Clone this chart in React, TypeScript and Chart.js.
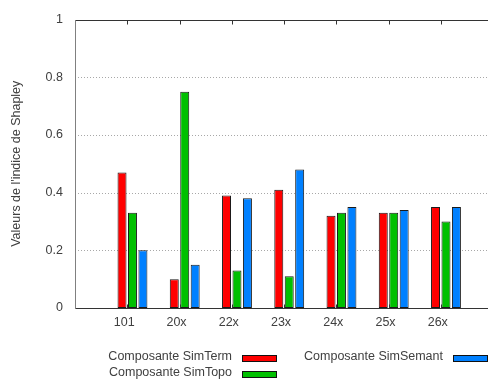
import React, { useEffect, useRef } from 'react';
import { Chart, registerables } from 'chart.js';

Chart.register(...registerables);

const categories = ['101', '20x', '22x', '23x', '24x', '25x', '26x'];
const simTerm = [0.47, 0.1, 0.39, 0.41, 0.32, 0.33, 0.35];
const simTopo = [0.33, 0.75, 0.13, 0.11, 0.33, 0.33, 0.3];
const simSemant = [0.2, 0.15, 0.38, 0.48, 0.35, 0.34, 0.35];
const seriesNames = ['Composante SimTerm', 'Composante SimTopo', 'Composante SimSemant'];
const seriesColors = ['#ff0000', '#00c000', '#0080ff'];
const yTicks = [0, 0.2, 0.4, 0.6, 0.8, 1];
const yTitle = "Valeurs de l'indice de Shapley";

const FONT = "'Liberation Sans', Arial, sans-serif";
const FONT_SIZE = 12.5;
const TEXT_COLOR = '#404040';

const framePlugin = {
  id: 'gnuFrame',
  beforeDatasetsDraw(chart: any) {
    const { ctx, chartArea, scales } = chart;
    const { left, right } = chartArea;
    ctx.save();
    ctx.strokeStyle = '#a8a8a8';
    ctx.lineWidth = 1;
    ctx.setLineDash([1, 2]);
    for (const v of yTicks) {
      if (v <= 0 || v >= 1) continue;
      const py = Math.round(scales.y.getPixelForValue(v)) + 0.5;
      ctx.beginPath();
      ctx.moveTo(left, py);
      ctx.lineTo(right, py);
      ctx.stroke();
    }
    ctx.restore();
  },
  afterDatasetsDraw(chart: any) {
    const { ctx, chartArea, scales } = chart;
    const { left, right, top, bottom } = chartArea;
    const t = Math.round(top) + 0.5;
    const b = Math.round(bottom) + 0.5;
    const l = Math.round(left) + 0.5;
    ctx.save();
    ctx.lineWidth = 1;
    ctx.setLineDash([]);
    ctx.strokeStyle = '#808080';
    ctx.beginPath();
    ctx.moveTo(l, t);
    ctx.lineTo(l, b);
    ctx.stroke();
    ctx.strokeStyle = '#333333';
    ctx.beginPath();
    ctx.moveTo(l, t);
    ctx.lineTo(right, t);
    ctx.moveTo(l, b);
    ctx.lineTo(right, b);
    ctx.stroke();
    for (let i = 1; i <= categories.length; i++) {
      const px = Math.round(scales.x.getPixelForValue(i)) + 0.5;
      ctx.beginPath();
      ctx.moveTo(px, t);
      ctx.lineTo(px, t + 4);
      ctx.moveTo(px, b);
      ctx.lineTo(px, b - 4);
      ctx.stroke();
    }
    ctx.restore();
  },
  afterDraw(chart: any) {
    const { ctx } = chart;
    ctx.save();
    ctx.font = `${FONT_SIZE}px ${FONT}`;
    ctx.textAlign = 'right';
    ctx.textBaseline = 'middle';
    const entries = [
      { name: seriesNames[0], color: seriesColors[0], tx: 232, ty: 357 },
      { name: seriesNames[1], color: seriesColors[1], tx: 232, ty: 372.5 },
      { name: seriesNames[2], color: seriesColors[2], tx: 443, ty: 357 },
    ];
    for (const e of entries) {
      ctx.fillStyle = TEXT_COLOR;
      ctx.fillText(e.name, e.tx, e.ty);
      const sx = e.tx + 10;
      const sy = Math.round(e.ty - 2) + 0.5;
      ctx.fillStyle = e.color;
      ctx.fillRect(sx, sy, 35, 6);
      ctx.strokeStyle = '#111';
      ctx.lineWidth = 1;
      ctx.strokeRect(sx + 0.5, sy, 34, 6);
    }
    ctx.restore();
  },
};

export default function App() {
  const canvasRef = useRef<HTMLCanvasElement | null>(null);

  useEffect(() => {
    if (!canvasRef.current) return;
    const labels = ['', ...categories, ''];
    const pad = (arr: number[]) => [null, ...arr, null];
    const series = [simTerm, simTopo, simSemant];
    const chart = new Chart(canvasRef.current, {
      type: 'bar',
      data: {
        labels,
        datasets: [
          {
            label: '',
            data: labels.map(() => null),
            backgroundColor: 'transparent',
            borderWidth: 0,
          },
          ...series.map((s, i) => ({
            label: seriesNames[i],
            data: pad(s),
            backgroundColor: seriesColors[i],
            borderColor: '#1a1a1a',
            borderWidth: 1,
            borderSkipped: false,
          })),
        ] as any,
      },
      options: {
        animation: false,
        responsive: false,
        devicePixelRatio: 1,
        datasets: { bar: { categoryPercentage: 0.8, barPercentage: 0.86 } },
        layout: { padding: { left: 0, right: 5, top: 16, bottom: 0 } },
        plugins: {
          legend: { display: false },
          tooltip: { enabled: false },
          title: { display: false },
        },
        scales: {
          x: {
            type: 'category',
            offset: false,
            grid: { display: false, drawTicks: false },
            border: { display: false },
            ticks: {
              autoSkip: false,
              maxRotation: 0,
              minRotation: 0,
              padding: 7,
              labelOffset: -3,
              color: TEXT_COLOR,
              font: { family: FONT, size: FONT_SIZE },
            },
            afterFit: (scale: any) => {
              scale.height = 72;
            },
          },
          y: {
            min: 0,
            max: 1,
            grid: { display: false, drawTicks: false },
            border: { display: false },
            ticks: {
              stepSize: 0.2,
              padding: 12,
              color: TEXT_COLOR,
              font: { family: FONT, size: FONT_SIZE },
              callback: (v: any) => String(Math.round(Number(v) * 10) / 10),
            },
            title: {
              display: true,
              text: yTitle,
              color: TEXT_COLOR,
              font: { family: FONT, size: FONT_SIZE },
              padding: { top: 9, bottom: 0 },
            },
            afterFit: (scale: any) => {
              scale.width = 75;
            },
          },
        },
      } as any,
      plugins: [framePlugin],
    });
    return () => chart.destroy();
  }, []);

  return (
    <div
      style={{
        position: 'fixed',
        left: 0,
        top: 0,
        width: 488,
        height: 380,
        overflow: 'hidden',
        background: '#ffffff',
      }}
    >
      <canvas ref={canvasRef} width={500} height={380} style={{ display: 'block' }} />
    </div>
  );
}
